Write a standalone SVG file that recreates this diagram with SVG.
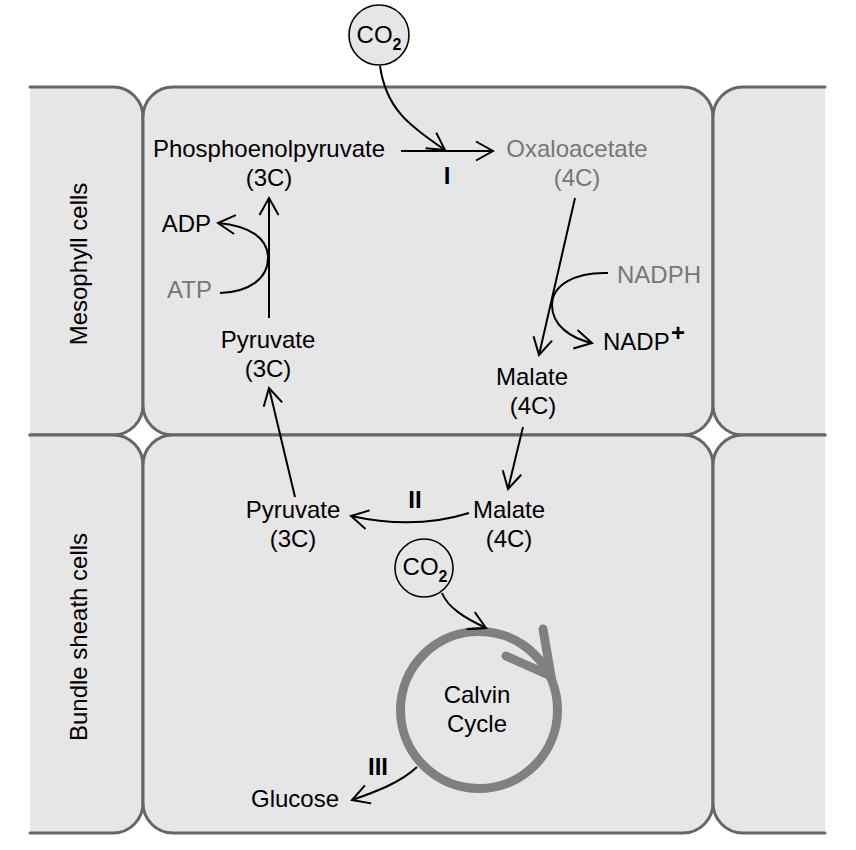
<svg xmlns="http://www.w3.org/2000/svg" width="856" height="850" viewBox="0 0 856 850">
<style>
.cell{fill:#e6e6e6;stroke:#666;stroke-width:3;stroke-linecap:round}
.t{font-family:"Liberation Sans",Arial,sans-serif;font-size:24px;fill:#000}
.g{fill:#777}
.c{text-anchor:middle}
.b{font-weight:bold}
.arr{fill:none;stroke:#000;stroke-width:2;marker-end:url(#ah)}
.co2{fill:#e6e6e6;stroke:#000;stroke-width:1.6}
</style>
<defs>
<marker id="ah" markerUnits="userSpaceOnUse" markerWidth="30" markerHeight="30" refX="0" refY="0" orient="auto" overflow="visible">
<path d="M-17,-9.5 L0,0 L-17,9.5" fill="none" stroke="#000" stroke-width="2"/>
</marker>
</defs>
<rect width="856" height="850" fill="#fff"/>
<g id="cells">
<path id="mesophyll-left" class="cell" d="M30,87 H113 A30,30 0 0 1 143,117 V405 A30,30 0 0 1 113,435 H30"/>
<rect id="mesophyll-main" class="cell" x="143" y="87" width="570" height="348" rx="30" ry="30"/>
<path id="mesophyll-right" class="cell" d="M825,87 H743 A30,30 0 0 0 713,117 V405 A30,30 0 0 0 743,435 H825"/>
<path id="bundle-left" class="cell" d="M30,435 H113 A30,30 0 0 1 143,465 V803 A30,30 0 0 1 113,833 H30"/>
<rect id="bundle-main" class="cell" x="143" y="435" width="570" height="398" rx="30" ry="30"/>
<path id="bundle-right" class="cell" d="M825,435 H743 A30,30 0 0 0 713,465 V803 A30,30 0 0 0 743,833 H825"/>
</g>
<g id="cell-labels">
<text class="t c" transform="translate(87,264) rotate(-90)">Mesophyll cells</text>
<text class="t c" transform="translate(87,637) rotate(-90)">Bundle sheath cells</text>
</g>
<g id="co2-top">
<circle class="co2" cx="379" cy="35" r="30"/>
<text class="t c" x="379" y="43">CO<tspan dy="7" font-size="16" font-weight="bold">2</tspan></text>
</g>
<g id="pep"><text class="t c" x="269" y="157">Phosphoenolpyruvate</text><text class="t c" x="269" y="186">(3C)</text></g>
<g id="oxaloacetate"><text class="t c g" x="577" y="157">Oxaloacetate</text><text class="t c g" x="577" y="186">(4C)</text></g>
<g id="adp"><text class="t" x="211" y="232" text-anchor="end">ADP</text></g>
<g id="atp"><text class="t g" x="212" y="298" text-anchor="end">ATP</text></g>
<g id="nadph"><text class="t g" x="617" y="283">NADPH</text></g>
<g id="nadp"><text class="t" x="603" y="350">NADP</text><text class="t b" x="671" y="341" font-size="15">+</text></g>
<g id="pyruvate-top"><text class="t c" x="268" y="348">Pyruvate</text><text class="t c" x="268" y="377">(3C)</text></g>
<g id="malate-top"><text class="t c" x="532" y="385">Malate</text><text class="t c" x="533" y="414">(4C)</text></g>
<g id="malate-bottom"><text class="t c" x="509" y="518">Malate</text><text class="t c" x="509" y="547">(4C)</text></g>
<g id="pyruvate-bottom"><text class="t c" x="293" y="518">Pyruvate</text><text class="t c" x="293" y="547">(3C)</text></g>
<g id="co2-bottom">
<circle class="co2" cx="424" cy="568" r="29"/>
<text class="t c" x="425" y="575">CO<tspan dy="7" font-size="16" font-weight="bold">2</tspan></text>
</g>
<g id="calvin-cycle">
<circle cx="479" cy="710" r="78.5" fill="none" stroke="#808080" stroke-width="9"/>
<polyline points="543,629 551,676 506,656" fill="none" stroke="#808080" stroke-width="9" stroke-linecap="round" stroke-linejoin="miter"/>
<text class="t c" x="477" y="703">Calvin</text>
<text class="t c" x="477" y="732">Cycle</text>
</g>
<g id="glucose"><text class="t" x="251" y="807">Glucose</text></g>
<g id="step-labels">
<text class="t c b" x="447" y="184">I</text>
<text class="t c b" x="415" y="508">II</text>
<text class="t c b" x="378" y="775">III</text>
</g>
<g id="connectors">
<path class="arr" d="M401,151 H493"/>
<path class="arr" d="M380,66 C386,108 408,125 445,150"/>
<path class="arr" d="M575,198 L539,355"/>
<path class="arr" d="M608,273 C575,272 552,285 552,305 C552,325 570,338 592,343"/>
<path class="arr" d="M269,318 V198"/>
<path class="arr" d="M220,293 C250,292 268,278 268,258 C268,238 250,226 218,223"/>
<path class="arr" d="M523,427 L508,489"/>
<path class="arr" d="M469,513 Q415,530 351,516"/>
<path class="arr" d="M295,497 L269,388"/>
<path class="arr" d="M442,593 C448,608 465,618 486,628"/>
<path class="arr" d="M417,767 C400,783 375,792 352,800"/>
</g>
</svg>
